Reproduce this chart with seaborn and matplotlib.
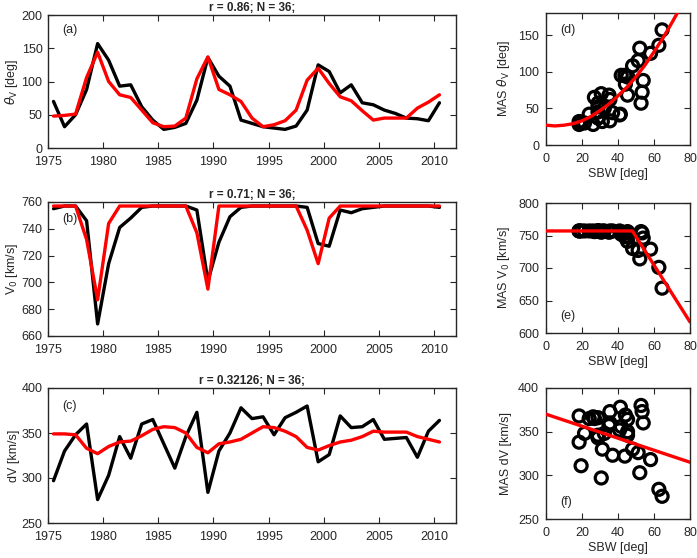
import numpy as np
import pandas as pd
import matplotlib
matplotlib.use('Agg')
import matplotlib.pyplot as plt
import seaborn as sns

# ---------------------------------------------------------
# datos
# ---------------------------------------------------------
anios = [1975.5 + i for i in range(36)]

theta_obs = [70, 32, 50, 88, 157, 132, 93, 95, 62, 42, 28, 31, 37, 72, 136, 108, 93, 42,
             37, 32, 30, 28, 33, 57, 125, 115, 83, 95, 68, 65, 57, 52, 45, 44, 41, 68]
theta_fit = [48, 49, 51, 106, 144, 100, 80, 76, 57, 38, 32, 33, 45, 104, 137, 88, 80, 70,
             45, 32, 35, 41, 57, 102, 120, 97, 77, 71, 56, 42, 45, 45, 45, 60, 69, 80]

v0_obs = [755, 757, 757, 746, 669, 714, 741, 748, 756, 757, 757, 757, 757, 754, 701, 730, 749, 756,
          757, 757, 757, 757, 757, 756, 729, 727, 754, 752, 755, 756, 757, 757, 757, 757, 757, 756]
v0_fit = [757, 757, 757, 732, 687, 744, 757, 757, 757, 757, 757, 757, 757, 737, 695, 757, 757, 757,
          757, 757, 757, 757, 757, 739, 714, 748, 757, 757, 757, 757, 757, 757, 757, 757, 757, 757]

dv_obs = [297, 330, 348, 360, 276, 303, 346, 322, 360, 365, 338, 311, 346, 373, 284, 330, 350, 378,
          366, 368, 348, 367, 373, 380, 318, 326, 369, 356, 357, 365, 343, 344, 345, 323, 352, 364]
dv_fit = [349, 349, 348, 333, 327, 335, 340, 341, 347, 354, 357, 356, 350, 334, 328, 338, 340, 343,
          350, 357, 356, 352, 346, 334, 331, 336, 340, 342, 346, 352, 351, 351, 351, 346, 343, 340]

sbw = [30.7, 31.3, 32.4, 54.0, 64.5, 52.1, 45.3, 43.8, 35.5, 24.0, 18.4, 19.5, 28.9, 53.4, 62.7, 48.1,
       45.3, 41.3, 28.9, 18.4, 21.4, 26.2, 35.5, 52.8, 58.1, 51.2, 44.1, 41.8, 35.0, 26.9, 28.9, 28.9,
       28.9, 37.0, 40.9, 45.3]

# curvas de ajuste (paneles d, e, f)
ajuste_d_x = [0, 5, 10, 15, 20, 25, 30, 35, 40, 45, 50, 55, 60, 65, 70, 75]
ajuste_d_y = [27, 26, 27, 29, 33, 39, 47, 56, 67, 79, 93, 109, 127, 146, 167, 189]
ajuste_e_x = [0, 48, 80]
ajuste_e_y = [757, 757, 617]
ajuste_f_x = [0, 80]
ajuste_f_y = [370, 315]

titulos = ['r = 0.86; N = 36;', 'r = 0.71; N = 36;', 'r = 0.32126; N = 36;']

# ---------------------------------------------------------
# estilo
# ---------------------------------------------------------
sns.set_style('ticks')
plt.rcParams['font.family'] = ['Liberation Sans', 'DejaVu Sans']
plt.rcParams['mathtext.fontset'] = 'dejavusans'
plt.rcParams['xtick.direction'] = 'in'
plt.rcParams['ytick.direction'] = 'in'
plt.rcParams['xtick.top'] = True
plt.rcParams['ytick.right'] = True
plt.rcParams['font.size'] = 9
plt.rcParams['axes.linewidth'] = 1.0

W, H = 697, 558
fig = plt.figure(figsize=(W / 100, H / 100), dpi=100)


def caja(x0, y0, x1, y1):
    return fig.add_axes([x0 / W, 1 - y1 / H, (x1 - x0) / W, (y1 - y0) / H])


ax_a = caja(48, 15, 456, 148)
ax_b = caja(48, 202, 456, 336)
ax_c = caja(48, 388, 456, 523)
ax_d = caja(546, 13, 690, 145)
ax_e = caja(546, 203, 690, 333)
ax_f = caja(546, 388, 690, 519)

df = pd.DataFrame({'anio': anios, 'theta_obs': theta_obs, 'theta_fit': theta_fit,
                   'v0_obs': v0_obs, 'v0_fit': v0_fit, 'dv_obs': dv_obs, 'dv_fit': dv_fit,
                   'sbw': sbw})

series = [(ax_a, 'theta_obs', 'theta_fit', r'$\theta_{\rm V}$ [deg]', (0, 200), np.arange(0, 201, 50), '(a)', 0.89),
          (ax_b, 'v0_obs', 'v0_fit', r'V$_0$ [km/s]', (660, 760), np.arange(660, 761, 20), '(b)', 0.87),
          (ax_c, 'dv_obs', 'dv_fit', 'dV [km/s]', (250, 400), np.arange(250, 401, 50), '(c)', 0.87)]

for (ax, obs, fit, etiqueta, lim, ticks, letra, ypos), titulo in zip(series, titulos):
    sns.lineplot(data=df, x='anio', y=obs, ax=ax, color='black', linewidth=2.4)
    sns.lineplot(data=df, x='anio', y=fit, ax=ax, color='red', linewidth=2.4)
    ax.set_xlim(1975, 2012)
    ax.set_xticks(range(1975, 2011, 5))
    ax.set_ylim(*lim)
    ax.set_yticks(ticks)
    ax.set_xlabel('')
    ax.set_ylabel(etiqueta, fontsize=9, labelpad=1)
    ax.set_title(titulo, fontsize=8.5, fontweight='bold', pad=3)
    ax.text(0.035, ypos, letra, transform=ax.transAxes, fontsize=9, va='center')
    ax.tick_params(labelsize=9, length=4)
    ax.tick_params(axis='x', pad=6)
    ax.tick_params(axis='y', pad=4)

scatter = [(ax_d, 'theta_obs', ajuste_d_x, ajuste_d_y, r'MAS $\theta_{\rm V}$ [deg]', (0, 180), [0, 50, 100, 150], '(d)', 0.87),
           (ax_e, 'v0_obs', ajuste_e_x, ajuste_e_y, r'MAS V$_0$ [km/s]', (600, 800), np.arange(600, 801, 50), '(e)', 0.13),
           (ax_f, 'dv_obs', ajuste_f_x, ajuste_f_y, 'MAS dV [km/s]', (250, 400), np.arange(250, 401, 50), '(f)', 0.13)]

for ax, obs, fx, fy, etiqueta, lim, ticks, letra, ypos in scatter:
    sns.scatterplot(data=df, x='sbw', y=obs, ax=ax, marker='o', s=75,
                    fc='none', ec='black', linewidth=2.3, zorder=2)
    sns.lineplot(x=fx, y=fy, ax=ax, color='red', linewidth=2.4, zorder=3)
    ax.set_xlim(0, 80)
    ax.set_xticks(range(0, 81, 20))
    ax.set_ylim(*lim)
    ax.set_yticks(ticks)
    ax.set_xlabel('SBW [deg]', fontsize=9, labelpad=2)
    ax.set_ylabel(etiqueta, fontsize=9)
    ax.text(0.1, ypos, letra, transform=ax.transAxes, fontsize=9, va='center')
    ax.tick_params(labelsize=9, length=4)
    ax.tick_params(axis='x', pad=6)
    ax.tick_params(axis='y', pad=5)

fig.savefig('out.png', dpi=100)
